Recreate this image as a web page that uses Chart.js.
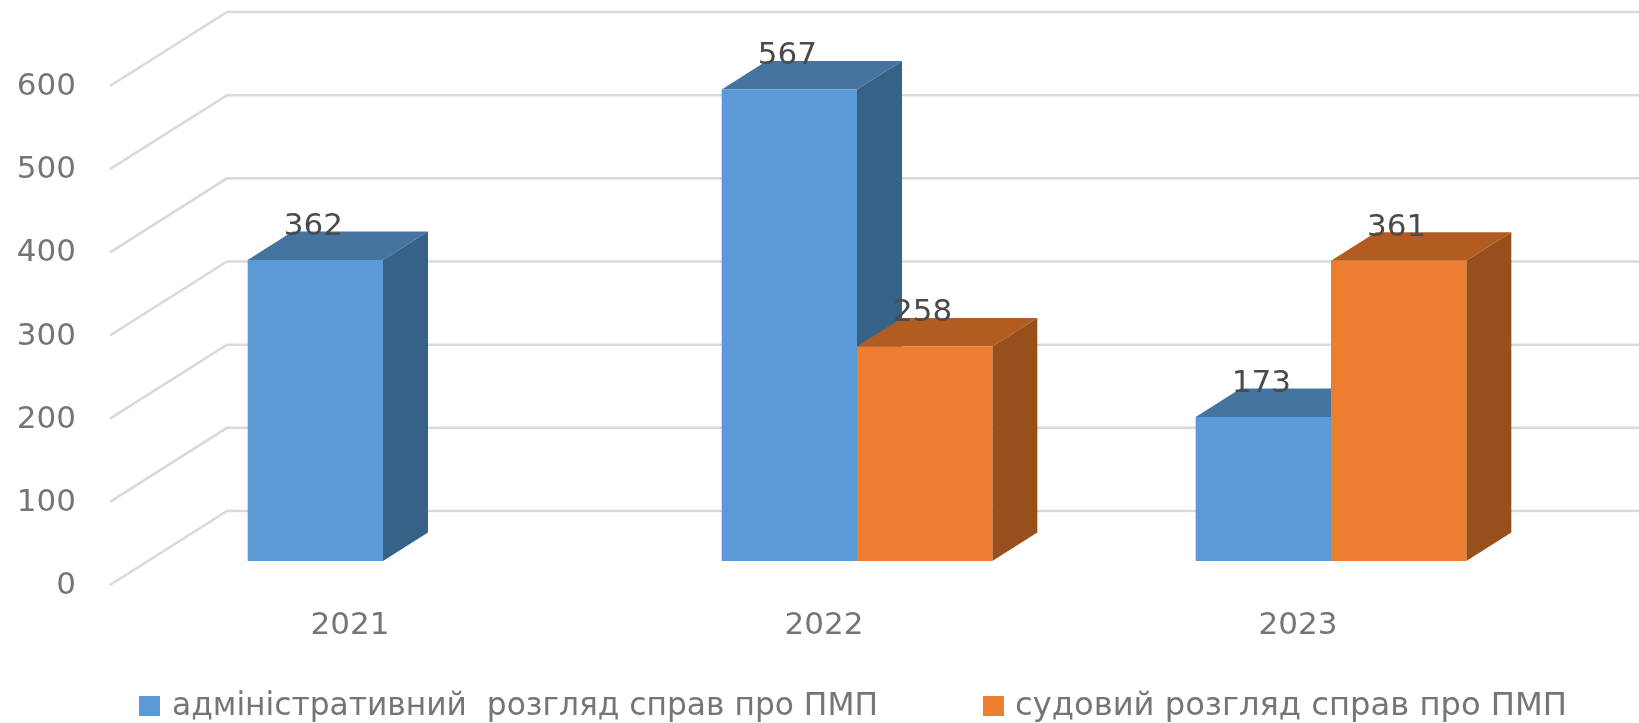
<!DOCTYPE html>
<html lang="uk">
<head>
<meta charset="utf-8">
<title>Розгляд справ про ПМП</title>
<script src="https://cdn.jsdelivr.net/npm/chart.js@4"></script>
<style>
    html, body { margin: 0; padding: 0; background: #fff; overflow: hidden; }
    #chart { display: block; filter: blur(0.6px); }
</style>
</head>
<body>
<canvas id="chart" width="1639" height="723"></canvas>
<script>
// Chart data
const years = ['2021', '2022', '2023'];
const adminCases = [362, 567, 173];
const courtCases = [null, 258, 361];
const seriesNames = ['адміністративний  розгляд справ про ПМП', 'судовий розгляд справ про ПМП'];

// Colours: front face, top face, side face
const blueFaces = ['#5b9ad6', '#44749f', '#366288'];
const orangeFaces = ['#ed7d2f', '#b35c21', '#974f1c'];

const FONT = '"DejaVu Sans", sans-serif';

// Depth of the fake 3D box and of the walls behind it (pixels)
const BAR_DX = 45;
const BAR_DY = -28.5;
const WALL_LEFT = 110;
const WALL_BACK = 227;
const WALL_FRONT_DY = 24;
const WALL_BACK_DY = -50;

// Legend swatch x, text x and font size per series
const legendSwatchX = [139, 983];
const legendTextX = [172, 1015];
const legendFontSize = [31.3, 32.2];

/**
 * Draw the floor/wall gridlines behind the bars, from the y scale ticks
 */
function drawWalls(chart) {
    const ctx = chart.ctx;
    const scale = chart.scales.y;

    ctx.save();
    ctx.strokeStyle = '#d9d9d9';
    ctx.lineWidth = 2.5;
    scale.ticks.forEach(tick => {
        const y = scale.getPixelForValue(tick.value);
        ctx.beginPath();
        ctx.moveTo(WALL_LEFT, y + WALL_FRONT_DY);
        ctx.lineTo(WALL_BACK, y + WALL_BACK_DY);
        ctx.lineTo(chart.width, y + WALL_BACK_DY);
        ctx.stroke();
    });
    ctx.restore();
}

/**
 * Fill one polygon
 */
function fillPoly(ctx, color, points) {
    ctx.fillStyle = color;
    ctx.beginPath();
    points.forEach((p, i) => (i === 0 ? ctx.moveTo(p[0], p[1]) : ctx.lineTo(p[0], p[1])));
    ctx.closePath();
    ctx.fill();
}

/**
 * Draw the top and side faces of every bar; the front is the real Chart.js bar
 */
function drawBarFaces(chart) {
    const ctx = chart.ctx;
    const faces = [blueFaces, orangeFaces];

    chart.data.datasets.forEach((dataset, d) => {
        chart.getDatasetMeta(d).data.forEach((bar, i) => {
            if (dataset.data[i] === null) return;
            const props = bar.getProps(['x', 'y', 'base', 'width'], true);
            const left = props.x - props.width / 2;
            const right = props.x + props.width / 2;

            fillPoly(ctx, faces[d][1], [
                [left, props.y],
                [left + BAR_DX, props.y + BAR_DY],
                [right + BAR_DX, props.y + BAR_DY],
                [right, props.y]
            ]);
            fillPoly(ctx, faces[d][2], [
                [right, props.y],
                [right + BAR_DX, props.y + BAR_DY],
                [right + BAR_DX, props.base + BAR_DY],
                [right, props.base]
            ]);
        });
    });
}

/**
 * Draw the value labels above the bars
 */
function drawValueLabels(chart) {
    const ctx = chart.ctx;

    ctx.save();
    ctx.font = '31px ' + FONT;
    ctx.fillStyle = '#4a4a4a';
    ctx.textAlign = 'center';
    ctx.textBaseline = 'middle';
    chart.data.datasets.forEach((dataset, d) => {
        chart.getDatasetMeta(d).data.forEach((bar, i) => {
            if (dataset.data[i] === null) return;
            const props = bar.getProps(['x', 'y'], true);
            ctx.fillText(String(dataset.data[i]), props.x - 2, props.y - 33);
        });
    });
    ctx.restore();
}

/**
 * Draw the legend row; the built-in one cannot hold this wide a gap on one line
 */
function drawLegend(chart) {
    const ctx = chart.ctx;

    ctx.save();
    ctx.textAlign = 'left';
    ctx.textBaseline = 'alphabetic';
    chart.data.datasets.forEach((dataset, d) => {
        ctx.fillStyle = dataset.backgroundColor;
        ctx.fillRect(legendSwatchX[d], 696, 21, 20);
        ctx.fillStyle = '#757575';
        ctx.font = legendFontSize[d] + 'px ' + FONT;
        ctx.fillText(dataset.label, legendTextX[d], 715);
    });
    ctx.restore();
}

const box3dPlugin = {
    id: 'box3d',
    beforeDatasetsDraw(chart) {
        drawWalls(chart);
        drawBarFaces(chart);
    },
    afterDatasetsDraw(chart) {
        drawValueLabels(chart);
        drawLegend(chart);
    }
};

new Chart(document.getElementById('chart'), {
    type: 'bar',
    data: {
        labels: years,
        datasets: [
            { label: seriesNames[0], data: adminCases, backgroundColor: blueFaces[0], borderWidth: 0 },
            { label: seriesNames[1], data: courtCases, backgroundColor: orangeFaces[0], borderWidth: 0 }
        ]
    },
    plugins: [box3dPlugin],
    options: {
        responsive: false,
        animation: false,
        categoryPercentage: 0.571,
        barPercentage: 1,
        layout: { padding: { top: 62, left: 0, right: 71, bottom: 0 } },
        plugins: {
            tooltip: { enabled: false },
            legend: { display: false }
        },
        scales: {
            x: {
                grid: { display: false, drawTicks: false },
                border: { display: false },
                ticks: {
                    color: '#757575',
                    padding: 46,
                    labelOffset: -33,
                    maxRotation: 0,
                    font: { family: FONT, size: 31 }
                },
                afterFit(scale) { scale.height = 162; }
            },
            y: {
                min: 0,
                max: 600,
                grid: { display: false, drawTicks: false },
                border: { display: false },
                ticks: {
                    stepSize: 100,
                    color: '#757575',
                    padding: 70,
                    labelOffset: 25,
                    font: { family: FONT, size: 31 }
                },
                afterFit(scale) {
                    scale.width = 146;
                    // Keep the top tick label from pushing the plot area down
                    scale.paddingTop = 0;
                    scale.paddingBottom = 0;
                }
            }
        }
    }
});
</script>
</body>
</html>
